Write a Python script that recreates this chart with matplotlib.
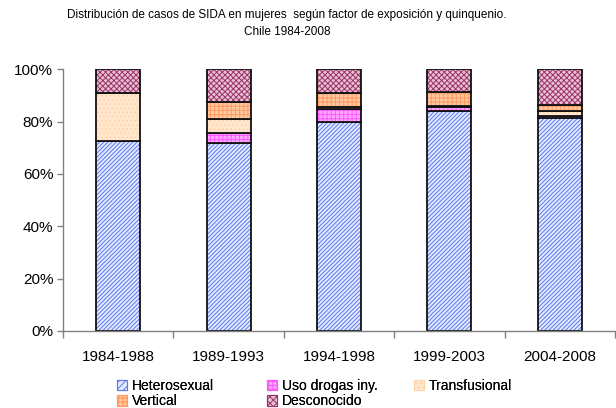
import numpy as np
import matplotlib
matplotlib.use('Agg')
import matplotlib.pyplot as plt
from matplotlib.patches import Patch
from matplotlib.ticker import PercentFormatter

periodos = ['1984-1988', '1989-1993', '1994-1998', '1999-2003', '2004-2008']
heterosexual = [72.7, 71.7, 80.0, 84.0, 81.5]
uso_drogas = [0.0, 3.8, 4.7, 1.7, 0.8]
transfusional = [18.1, 5.5, 0.8, 0.4, 1.8]
vertical = [0.0, 6.4, 5.3, 5.1, 2.3]
desconocido = [9.2, 12.6, 9.2, 8.8, 13.6]

series = [
    ('Heterosexual', heterosexual, '#e4eaff', '#5a78f0', '////////'),
    ('Uso drogas iny.', uso_drogas, '#ffa8ff', '#ff55ff', '++++'),
    ('Transfusional', transfusional, '#ffe6cc', '#ffd2a8', '....'),
    ('Vertical', vertical, '#ffc8a0', '#ff9a60', '++++'),
    ('Desconocido', desconocido, '#e8c0d4', '#993366', 'xxxxxx'),
]

plt.rcParams['font.family'] = ['Liberation Sans', 'DejaVu Sans']
plt.rcParams['hatch.linewidth'] = 0.7

fig = plt.figure(figsize=(6.16, 4.08), dpi=100)
ax = fig.add_axes([63 / 616, 1 - 331 / 408, (615 - 63) / 616, (331 - 69.3) / 408])

x = np.arange(len(periodos))
bottom = np.zeros(len(periodos))
handles = {}
for name, vals, fc, hc, hatch in series:
    vals = np.array(vals) / 100
    ax.bar(x, vals, 0.4, bottom=bottom, color=fc, edgecolor=hc, hatch=hatch, linewidth=0)
    ax.bar(x, vals, 0.4, bottom=bottom, fill=False, edgecolor='#111111', linewidth=1.3)
    bottom += vals
    handles[name] = Patch(facecolor=fc, edgecolor=hc, hatch=hatch[:5], linewidth=0.8)

ax.set_xlim(-0.5, len(periodos) - 0.5)
ax.set_ylim(0, 1)
ax.yaxis.set_major_formatter(PercentFormatter(1.0, decimals=0))
ax.set_yticks(np.arange(0, 1.01, 0.2))
ax.set_xticks(x)
ax.set_xticklabels(periodos, fontsize=11)
ax.tick_params(axis='x', length=0, pad=14)
ax.set_xticks(np.arange(-0.5, len(periodos)), minor=True)
ax.tick_params(axis='x', which='minor', length=5, color='#808080', width=1)
ax.tick_params(axis='y', labelsize=11, length=4, color='#808080', width=1, pad=3)
for s in ['top', 'right']:
    ax.spines[s].set_visible(False)
for s in ['left', 'bottom']:
    ax.spines[s].set_color('#808080')
    ax.spines[s].set_linewidth(1)

# legend laid out in three columns like the original
columnas = [(['Heterosexual', 'Vertical'], 117), (['Uso drogas iny.', 'Desconocido'], 267),
            (['Transfusional'], 414)]
for nombres, xpos in columnas:
    leg = fig.legend([handles[n] for n in nombres], nombres, frameon=False, fontsize=10,
                     loc='upper left', bbox_to_anchor=(xpos / 616, 1 - 379 / 408),
                     handlelength=0.75, handleheight=0.75, handletextpad=0.3,
                     labelspacing=0.1, borderpad=0, borderaxespad=0)
    fig.add_artist(leg)

fig.text(287 / 616, 1 - 15 / 408, 'Distribución de casos de SIDA en mujeres  según factor de exposición y quinquenio.',
         ha='center', va='center', fontsize=8.5)
fig.text(287 / 616, 1 - 32 / 408, 'Chile 1984-2008', ha='center', va='center', fontsize=8.5)

fig.savefig('out.png', dpi=100)
